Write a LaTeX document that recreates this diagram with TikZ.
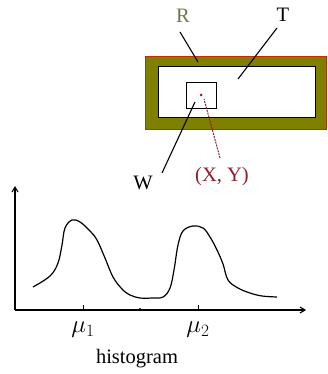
\documentclass[tikz,border=0pt]{standalone}
\usepackage{fontspec}
\setmainfont{Liberation Serif}
\usetikzlibrary{arrows.meta}
\definecolor{olivef}{RGB}{128,128,0}
\definecolor{redb}{RGB}{200,40,10}
\definecolor{rlab}{RGB}{110,120,70}
\definecolor{xylab}{RGB}{140,30,45}
\tikzset{
  lbl/.style={inner sep=0pt, font=\fontsize{20.5}{24}\selectfont},
  leader/.style={black, line width=1.1pt},
  axis/.style={black, line width=1.1pt, -{Straight Barb[length=5pt,width=6pt]}},
}
\begin{document}
\begin{tikzpicture}[x=1pt,y=-1pt]
\useasboundingbox (0,0) rectangle (327,374);
% outer rectangle R
\node (outer) [draw=redb, fill=olivef, line width=1pt, minimum width=181pt, minimum height=73pt, inner sep=0pt, anchor=north west] at (145,56) {};
% inner rectangle T
\node (inner) [draw=black, fill=white, line width=1.2pt, minimum width=157pt, minimum height=51pt, inner sep=0pt, anchor=north west] at (158,66) {};
% window W
\node (win) [draw=black, fill=white, line width=1pt, minimum width=30pt, minimum height=26pt, inner sep=0pt, anchor=north west] at (186,82) {};
\node (dot) [circle, fill=xylab, inner sep=0pt, minimum size=3pt] at (201,95) {};
% labels
\node (R) [lbl, text=rlab] at (183,16) {R};
\node (T) [lbl] at (283,15) {T};
\node (W) [lbl] at (143,183) {W};
\node (XY) [lbl, text=xylab] at (222,177) {(X, Y)};
% leader lines
\coordinate (Ra) at (180,32); \coordinate (Rb) at (198,62);
\coordinate (Ta) at (277,28); \coordinate (Tb) at (238,79);
\coordinate (Wa) at (162,173); \coordinate (Wb) at (195,102);
\coordinate (Xa) at (220,158); \coordinate (Xb) at (204,99);
\draw[leader] (Ra) -- (Rb);
\draw[leader] (Ta) -- (Tb);
\draw[leader] (Wa) -- (Wb);
\draw[xylab, line width=1pt, dash pattern=on 2pt off 1pt] (Xa) -- (Xb);
% axes
\coordinate (O) at (15,310);
\coordinate (Ytop) at (15,186);
\coordinate (Xend) at (306,310);
\draw[axis] (O) -- (Ytop);
\draw[axis] (O) -- (Xend);
% ticks
\coordinate (t1) at (83,310); \coordinate (t1u) at (83,305);
\coordinate (t2) at (198,310); \coordinate (t2u) at (198,305);
\draw[line width=0.9pt] (t1) -- (t1u);
\draw[line width=0.9pt] (t2) -- (t2u);
\node (mid) [circle, fill=black, inner sep=0pt, minimum size=2.5pt] at (140,309) {};
\node (mu1) [lbl, font=\fontsize{23}{26}\selectfont] at (83,330) {$\mu_1$};
\node (mu2) [lbl, font=\fontsize{23}{26}\selectfont] at (198,330) {$\mu_2$};
\node (hist) [lbl] at (137,359) {histogram};
% histogram curve
\draw[line width=1.2pt, smooth, tension=0.6] plot coordinates {
 (33,287) (50,276) (58,263) (62,245) (65,228) (72,220) (80,222) (90,231) (97,240)
 (105,258) (113,277) (122,289) (130,295) (140,298) (152,298) (163,297)
 (170,288) (174,270) (178,245) (183,231) (193,226) (203,228) (210,237) (217,250)
 (223,264) (228,280) (238,288) (250,293) (262,296) (277,297)};
\end{tikzpicture}
\end{document}
